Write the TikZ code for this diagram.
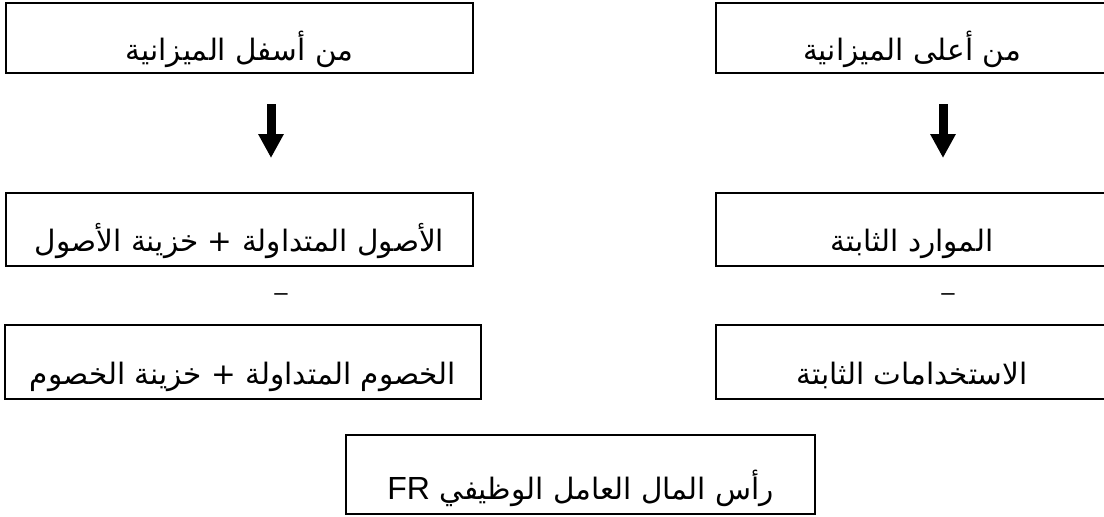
\documentclass[tikz,border=0pt]{standalone}
\usepackage{fontspec}
\setmainfont{Liberation Sans}
\newfontfamily\arabicfont[Script=Arabic]{DejaVu Sans}
\newfontfamily\latinfont{Liberation Sans}
\TeXXeTstate=1
\usetikzlibrary{arrows.meta}
\tikzset{
  box/.style={draw, line width=2pt, inner sep=0pt},
  lbl/.style={anchor=base, inner sep=0pt, font=\arabicfont\fontsize{29.5}{34}\selectfont},
  blk/.style={line width=9pt, line cap=butt, -{Triangle[width=24pt,length=24pt]}},
  minus/.style={inner sep=0pt, font=\latinfont\fontsize{24}{28}\selectfont},
}
\begin{document}
\begin{tikzpicture}[x=1pt,y=1pt]
\useasboundingbox (0,0) rectangle (1104,-517);
\clip (0,0) rectangle (1104,-517);
% boxes
\node[box, minimum width=467pt, minimum height=70pt] (tl) at (239.5,-38) {};
\node[box, minimum width=392pt, minimum height=70pt] (tr) at (912,-38) {};
\node[box, minimum width=467pt, minimum height=73pt] (ml) at (239.5,-229.5) {};
\node[box, minimum width=392pt, minimum height=73pt] (mr) at (912,-229.5) {};
\node[box, minimum width=476pt, minimum height=74pt] (ll) at (243,-362) {};
\node[box, minimum width=392pt, minimum height=74pt] (lr) at (912,-362) {};
\node[box, minimum width=469pt, minimum height=79pt] (bot) at (580.5,-474.5) {};
% texts
\node[lbl] (tl-t) at ([yshift=14pt]tl.south) {\beginR من أسفل الميزانية\endR};
\node[lbl] (tr-t) at ([yshift=14pt]tr.south) {\beginR من أعلى الميزانية\endR};
\node[lbl] (ml-t) at ([yshift=16pt]ml.south) {\beginR الأصول المتداولة + خزينة الأصول\endR};
\node[lbl] (mr-t) at ([yshift=16pt]mr.south) {\beginR الموارد الثابتة\endR};
\node[lbl] (ll-t) at ([yshift=16pt]ll.south) {\beginR الخصوم المتداولة + خزينة الخصوم\endR};
\node[lbl] (lr-t) at ([yshift=16pt]lr.south) {\beginR الاستخدامات الثابتة\endR};
\node[lbl] (bot-t) at ([yshift=16pt]bot.south) {\beginR رأس المال العامل الوظيفي \beginL{\latinfont\fontsize{32}{36}\selectfont FR}\endL\endR};
% minus signs
\node[minus] (m1) at (281,-297) {–};
\node[minus] (m2) at (948,-297) {–};
% arrows
\coordinate (a1s) at (271,-104);
\coordinate (a1e) at (271,-158);
\coordinate (a2s) at (943,-104);
\coordinate (a2e) at (943,-158);
\draw[blk] (a1s) -- (a1e);
\draw[blk] (a2s) -- (a2e);
\end{tikzpicture}
\end{document}
